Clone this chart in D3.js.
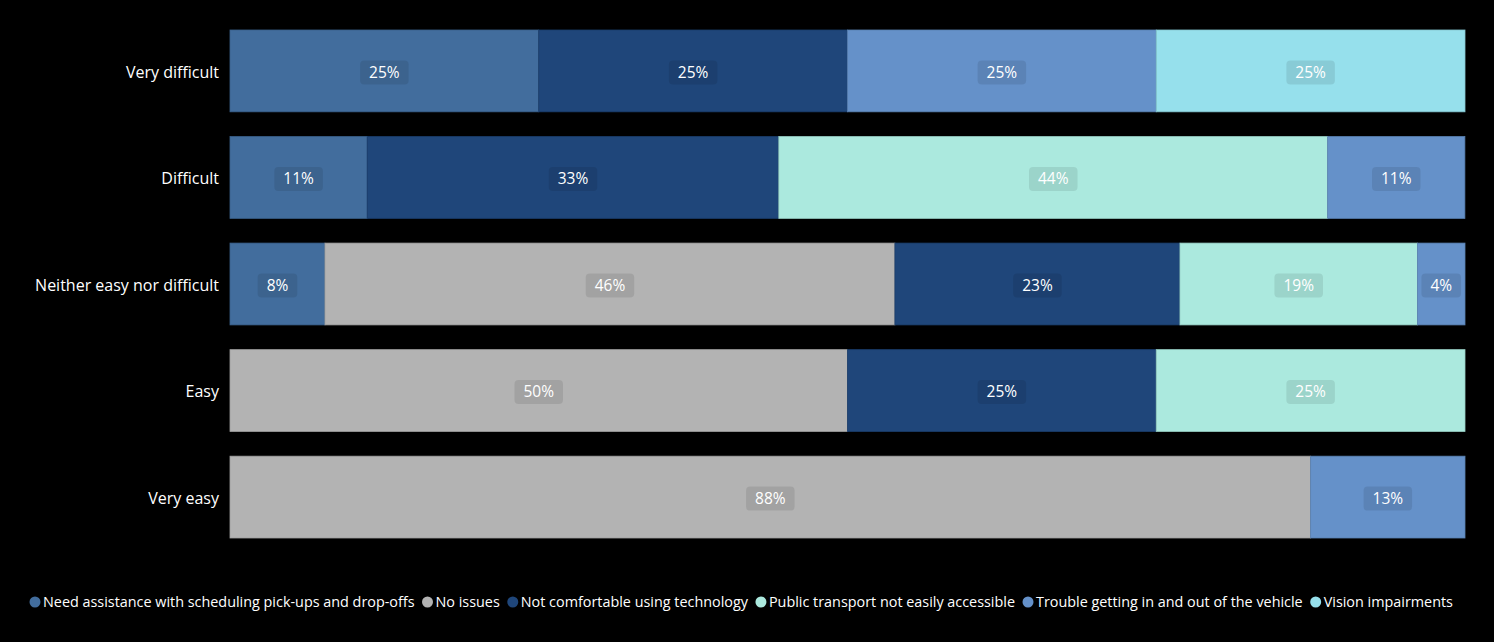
<!DOCTYPE html>
<html><head><meta charset="utf-8">
<script src="https://cdn.jsdelivr.net/npm/d3@7"></script>
<style>
html,body{margin:0;padding:0;background:#000;}
svg{display:block;font-family:"Segoe UI","Open Sans","Noto Sans",sans-serif;}
</style></head>
<body>
<svg id="chart" width="1494" height="642"></svg>
<script>
const categories = ["Very difficult","Difficult","Neither easy nor difficult","Easy","Very easy"];
const seriesNames = ["Need assistance with scheduling pick-ups and drop-offs","No issues","Not comfortable using technology","Public transport not easily accessible","Trouble getting in and out of the vehicle","Vision impairments"];
const seriesColors = ["#426d9d","#b3b3b3","#1f467a","#abe9de","#6591c9","#96e0ec"];
// percent values per series, in category order
const needAssistance   = [25, 11.11, 7.69, 0, 0];
const noIssues         = [0, 0, 46.15, 50, 87.5];
const notComfortable   = [25, 33.33, 23.08, 25, 0];
const publicTransport  = [0, 44.44, 19.23, 25, 0];
const troubleVehicle   = [25, 11.11, 3.85, 0, 12.5];
const visionImpair     = [25, 0, 0, 0, 0];
const seriesValues = [needAssistance,noIssues,notComfortable,publicTransport,troubleVehicle,visionImpair];

const svg = d3.select("#chart");
const margin = {left:230, right:29, top:30, bottom:104};
const W = 1494, H = 642;

const rows = categories.map((c,i)=>{
  const o = {category:c};
  seriesNames.forEach((s,j)=>o[s]=seriesValues[j][i]);
  return o;
});
const stack = d3.stack().keys(seriesNames);
const stacked = stack(rows);

const x = d3.scaleLinear().domain([0,100]).range([margin.left, W-margin.right]);
const y = d3.scaleBand().domain(categories).range([30, 538]).paddingInner(0.232).paddingOuter(0);
const color = d3.scaleOrdinal().domain(seriesNames).range(seriesColors);

const g = svg.append("g");
stacked.forEach(layer=>{
  const lg = g.append("g");
  layer.forEach((d,i)=>{
    const v = d[1]-d[0];
    if(v<=0) return;
    const cat = categories[i];
    lg.append("rect")
      .attr("x", x(d[0])).attr("y", y(cat))
      .attr("width", x(d[1])-x(d[0])).attr("height", y.bandwidth())
      .attr("fill", color(layer.key))
      .attr("stroke", d3.color(color(layer.key)).darker(0.35))
      .attr("stroke-width", 0.8);
  });
});
// labels
stacked.forEach(layer=>{
  layer.forEach((d,i)=>{
    const v = d[1]-d[0];
    if(v<=0) return;
    const cat = categories[i];
    const cx = (x(d[0])+x(d[1]))/2, cy = y(cat)+y.bandwidth()/2 + 1.5;
    const lab = Math.round(v)+"%";
    const t = g.append("text").attr("x",cx).attr("y",cy).attr("dy","0.35em")
      .attr("text-anchor","middle").attr("fill","#ffffff").attr("font-size",15.5).text(lab);
    const w = t.node().getComputedTextLength();
    g.insert("rect", function(){return t.node();})
      .attr("x", cx - w/2 - 9).attr("y", cy-12).attr("width", w+18).attr("height", 24)
      .attr("rx",4).attr("fill","rgba(0,0,0,0.09)");
  });
});
// y axis labels
const yAxis = d3.axisLeft(y).tickSize(0).tickPadding(11);
const ya = svg.append("g").attr("transform",`translate(${margin.left},1.5)`).call(yAxis);
ya.attr("font-family",null).attr("font-size",null);
ya.select(".domain").remove();
ya.selectAll("text").attr("fill","#ffffff").attr("font-size",16);

// legend
const leg = svg.append("g").attr("transform","translate(0,602)");
let fs = 14;
const items = seriesNames.map((s)=>{
  const it = leg.append("g");
  it.append("circle").attr("r",5.5).attr("fill",color(s));
  it.append("text").attr("x",8).attr("dy","0.35em").attr("fill","#ffffff").attr("font-size",fs).text(s);
  return it;
});
function layout(){
  let cx = 35;
  items.forEach(it=>{
    it.attr("transform",`translate(${cx},0)`);
    cx += 8 + it.select("text").node().getComputedTextLength() + 13;
  });
  return cx - 13;
}
let end = layout();
const target = 1455;
fs = fs * (target-35-8*6-13*5)/(end-35-8*6-13*5);
items.forEach(it=>it.select("text").attr("font-size",fs));
layout();
</script>
</body></html>
